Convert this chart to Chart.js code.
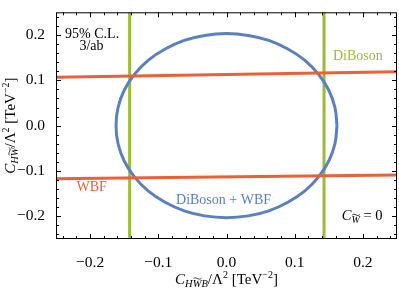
<!DOCTYPE html>
<html>
<head>
<meta charset="utf-8">
<script src="https://cdn.jsdelivr.net/npm/chart.js@4/dist/chart.umd.min.js"></script>
<style>
  body { margin: 0; background: #fff; }
  canvas { display: block; }
</style>
</head>
<body>
<canvas id="chart" width="399" height="289"></canvas>
<script>
// axis ticks
const xTicks = [-0.2, -0.1, 0.0, 0.1, 0.2];
const yTicks = [-0.2, -0.1, 0.0, 0.1, 0.2];

// DiBoson bounds (vertical lines, C_HWB)
const diBosonX = [-0.142, 0.143];

// WBF bounds (nearly horizontal lines), values at x = -0.25 and x = 0.25
const wbfEndsX = [-0.25, 0.25];
const wbfUpperY = [0.107, 0.119];
const wbfLowerY = [-0.117, -0.109];

// DiBoson + WBF contour
const comboX = [0.162, 0.159, 0.150, 0.135, 0.115, 0.090, 0.062, 0.032, 0.000,
  -0.032, -0.062, -0.090, -0.115, -0.135, -0.150, -0.159, -0.162,
  -0.159, -0.150, -0.135, -0.115, -0.090, -0.062, -0.032, 0.000,
  0.032, 0.062, 0.090, 0.115, 0.135, 0.150, 0.159, 0.162];
const comboY = [0.000, 0.040, 0.078, 0.113, 0.144, 0.169, 0.188, 0.199, 0.203,
  0.199, 0.188, 0.169, 0.144, 0.113, 0.078, 0.040, 0.000,
  -0.040, -0.078, -0.113, -0.144, -0.169, -0.188, -0.199, -0.203,
  -0.199, -0.188, -0.169, -0.144, -0.113, -0.078, -0.040, 0.000];

const GREEN = '#9cba3a';
const RED = '#ea6038';
const BLUE = '#5b80c2';
const SERIF = '"Liberation Serif", "DejaVu Serif", serif';

function fmt(v) {
  return v.toFixed(1).replace('-', '\u2212');
}

// draws a run of text pieces (sub/superscripts, italics, tilde accents)
function richText(ctx, parts, x, y, align) {
  let total = 0;
  parts.forEach((p) => {
    ctx.font = (p.it ? 'italic ' : '') + p.s + 'px ' + SERIF;
    p.w = ctx.measureText(p.t).width;
    total += p.w;
  });
  let cx = align === 'center' ? x - total / 2 : x;
  parts.forEach((p) => {
    ctx.font = (p.it ? 'italic ' : '') + p.s + 'px ' + SERIF;
    const by = y + (p.dy || 0);
    ctx.fillText(p.t, cx, by);
    if (p.tilde) {
      const ty = by - p.s * 0.8;
      const x0 = cx + p.w * 0.1, x1 = cx + p.w * 1.0;
      ctx.save();
      ctx.lineWidth = 0.8;
      ctx.strokeStyle = ctx.fillStyle;
      ctx.beginPath();
      ctx.moveTo(x0, ty);
      ctx.bezierCurveTo(x0 + (x1 - x0) * 0.3, ty - 2.5, x0 + (x1 - x0) * 0.7, ty + 2.5, x1, ty - 0.5);
      ctx.stroke();
      ctx.restore();
    }
    cx += p.w;
  });
}

const framePlugin = {
  id: 'frame',
  afterDatasetsDraw(chart) {
    const { ctx, chartArea: a, scales } = chart;
    ctx.save();
    ctx.strokeStyle = '#000';
    ctx.lineWidth = 1;
    ctx.strokeRect(a.left + 0.5, a.top + 0.5, a.right - a.left - 1, a.bottom - a.top - 1);
    ctx.beginPath();
    for (let i = -12; i <= 12; i++) {
      const v = i * 0.02;
      const len = i % 5 === 0 ? 5 : 3;
      const px = Math.round(scales.x.getPixelForValue(v)) + 0.5;
      ctx.moveTo(px, a.bottom); ctx.lineTo(px, a.bottom - len);
      ctx.moveTo(px, a.top); ctx.lineTo(px, a.top + len);
      const py = Math.round(scales.y.getPixelForValue(v)) + 0.5;
      ctx.moveTo(a.left, py); ctx.lineTo(a.left + len, py);
      ctx.moveTo(a.right, py); ctx.lineTo(a.right - len, py);
    }
    ctx.stroke();

    // annotations
    const X = (v) => scales.x.getPixelForValue(v);
    const Y = (v) => scales.y.getPixelForValue(v);
    ctx.textBaseline = 'middle';
    ctx.fillStyle = '#000';
    ctx.textAlign = 'center';
    ctx.font = '14px ' + SERIF;
    ctx.fillText('95% C.L.', X(-0.197), Y(0.201));
    ctx.fillText('3/ab', X(-0.198), Y(0.174));
    ctx.textAlign = 'left';
    ctx.fillStyle = GREEN;
    ctx.fillText('DiBoson', X(0.156), Y(0.152));
    ctx.fillStyle = RED;
    ctx.fillText('WBF', X(-0.220), Y(-0.137));
    ctx.fillStyle = BLUE;
    ctx.fillText('DiBoson + WBF', X(-0.074), Y(-0.164));
    ctx.fillStyle = '#000';
    ctx.textBaseline = 'alphabetic';
    richText(ctx, [
      { t: 'C', it: true, s: 14.5 },
      { t: 'W', it: true, s: 10, dy: 3, tilde: true },
      { t: ' = 0', s: 14.5 },
    ], X(0.169), Y(-0.197) + 5, 'left');

    // axis titles
    richText(ctx, [
      { t: 'C', it: true, s: 15 },
      { t: 'H', it: true, s: 10.5, dy: 3 },
      { t: 'W', it: true, s: 10.5, dy: 3, tilde: true },
      { t: 'B', it: true, s: 10.5, dy: 3 },
      { t: '/\u039B', s: 15 },
      { t: '2', s: 10, dy: -6 },
      { t: ' [TeV', s: 15 },
      { t: '\u22122', s: 10, dy: -6 },
      { t: ']', s: 15 },
    ], (a.left + a.right) / 2, 284, 'center');

    ctx.save();
    ctx.translate(15, (a.top + a.bottom) / 2);
    ctx.rotate(-Math.PI / 2);
    richText(ctx, [
      { t: 'C', it: true, s: 15 },
      { t: 'H', it: true, s: 10.5, dy: 3 },
      { t: 'W', it: true, s: 10.5, dy: 3, tilde: true },
      { t: '/\u039B', s: 15 },
      { t: '2', s: 10, dy: -6 },
      { t: ' [TeV', s: 15 },
      { t: '\u22122', s: 10, dy: -6 },
      { t: ']', s: 15 },
    ], 0, 0, 'center');
    ctx.restore();
    ctx.restore();
  },
};

const line = (data, color) => ({
  data: data,
  showLine: true,
  borderColor: color,
  borderWidth: 3,
  pointRadius: 0,
  fill: false,
});

new Chart(document.getElementById('chart'), {
  type: 'scatter',
  data: {
    datasets: [
      line(wbfEndsX.map((x, i) => ({ x: x, y: wbfUpperY[i] })), RED),
      line(wbfEndsX.map((x, i) => ({ x: x, y: wbfLowerY[i] })), RED),
      Object.assign(line(comboX.map((x, i) => ({ x: x, y: comboY[i] })), BLUE), { tension: 0.4 }),
      line([{ x: diBosonX[0], y: -0.25 }, { x: diBosonX[0], y: 0.25 }], GREEN),
      line([{ x: diBosonX[1], y: -0.25 }, { x: diBosonX[1], y: 0.25 }], GREEN),
    ],
  },
  options: {
    responsive: false,
    animation: false,
    layout: { padding: { top: 1, right: 2, left: 0, bottom: 0 } },
    plugins: { legend: { display: false }, tooltip: { enabled: false } },
    scales: {
      x: {
        type: 'linear',
        min: -0.25,
        max: 0.25,
        grid: { display: false },
        border: { display: false },
        afterBuildTicks: (s) => { s.ticks = xTicks.map((v) => ({ value: v })); },
        afterFit: (s) => { s.height = 50; },
        ticks: {
          padding: 7,
          color: '#000',
          maxRotation: 0,
          font: { family: SERIF, size: 15.5 },
          callback: (v) => fmt(v),
        },
      },
      y: {
        type: 'linear',
        min: -0.25,
        max: 0.25,
        grid: { display: false },
        border: { display: false },
        afterBuildTicks: (s) => { s.ticks = yTicks.map((v) => ({ value: v })); },
        afterFit: (s) => { s.width = 56; },
        ticks: {
          padding: 3,
          color: '#000',
          font: { family: SERIF, size: 15.5 },
          callback: (v) => fmt(v),
        },
      },
    },
  },
  plugins: [framePlugin],
});
</script>
</body>
</html>
